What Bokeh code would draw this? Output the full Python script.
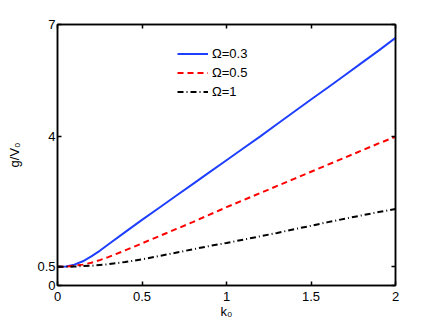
from bokeh.plotting import figure
from bokeh.models import Range1d, LinearAxis, FixedTicker, Legend, LegendItem
from bokeh.embed import file_html
from bokeh.resources import INLINE

k0 = [0.0, 0.05, 0.1, 0.15, 0.2, 0.25, 0.3, 0.4, 0.5, 0.6, 0.7, 0.8, 0.9, 1.0,
      1.1, 1.2, 1.3, 1.4, 1.5, 1.6, 1.7, 1.8, 1.9, 2.0]
g_omega_03 = [0.50, 0.51, 0.56, 0.65, 0.78, 0.93, 1.10, 1.43, 1.76, 2.08, 2.40, 2.72, 3.04, 3.36,
              3.68, 4.00, 4.33, 4.66, 4.99, 5.31, 5.64, 5.97, 6.30, 6.64]
g_omega_05 = [0.50, 0.505, 0.53, 0.56, 0.61, 0.68, 0.76, 0.94, 1.13, 1.32, 1.51, 1.70, 1.90, 2.10,
              2.29, 2.48, 2.67, 2.86, 3.05, 3.24, 3.43, 3.62, 3.81, 3.99]
g_omega_1 = [0.50, 0.50, 0.51, 0.52, 0.53, 0.55, 0.57, 0.63, 0.70, 0.79, 0.88, 0.97, 1.06, 1.14,
             1.23, 1.32, 1.41, 1.51, 1.60, 1.70, 1.79, 1.88, 1.97, 2.05]
series_labels = ["Ω=0.3", "Ω=0.5", "Ω=1"]
x_ticks = [0, 0.5, 1, 1.5, 2]
y_ticks = [0, 0.5, 4, 7]
x_title = "k₀"
y_title = "g/V₀"

FONT = "Liberation Sans"

p = figure(width=436, height=328, output_backend="svg", toolbar_location=None,
           x_range=Range1d(0, 2), y_range=Range1d(0, 7),
           min_border_left=57, min_border_right=41, min_border_top=24, min_border_bottom=43)
p.grid.visible = False
p.outline_line_color = "black"
p.outline_line_width = 1.5

r1 = p.line(k0, g_omega_03, line_color="#1f3fff", line_width=2)
r2 = p.line(k0, g_omega_05, line_color="#ff0000", line_width=2, line_dash="6 4")
r3 = p.line(k0, g_omega_1, line_color="black", line_width=2, line_dash="6 3 1 3")

for ax in p.xaxis:
    ax.ticker = FixedTicker(ticks=x_ticks)
    ax.major_label_standoff = 6
    ax.axis_label = x_title
    ax.axis_label_standoff = 0
for ax in p.yaxis:
    ax.ticker = FixedTicker(ticks=y_ticks)
    ax.major_label_standoff = 2
    ax.axis_label = y_title
    ax.axis_label_standoff = 12

for ax in list(p.xaxis) + list(p.yaxis):
    ax.axis_line_color = "black"
    ax.axis_line_width = 1.5
    ax.major_tick_in = 4
    ax.major_tick_out = 0
    ax.major_tick_line_width = 1.5
    ax.minor_tick_line_color = None
    ax.major_label_text_font = FONT
    ax.major_label_text_font_size = "13px"
    ax.major_label_text_color = "black"
    ax.axis_label_text_font = FONT
    ax.axis_label_text_font_size = "13px"
    ax.axis_label_text_font_style = "normal"
    ax.axis_label_text_color = "black"

# mirrored ticks on top and right
top = LinearAxis(ticker=FixedTicker(ticks=x_ticks))
right = LinearAxis(ticker=FixedTicker(ticks=y_ticks))
for ax in (top, right):
    ax.axis_line_color = "black"
    ax.axis_line_width = 1.5
    ax.major_tick_in = 4
    ax.major_tick_out = 0
    ax.major_tick_line_width = 1.5
    ax.minor_tick_line_color = None
    ax.major_label_text_font_size = "1px"
    ax.major_label_standoff = 0
top.major_label_overrides = {t: "" for t in x_ticks}
right.major_label_overrides = {t: "" for t in y_ticks}
p.add_layout(top, "above")
p.add_layout(right, "right")

legend = Legend(items=[LegendItem(label=series_labels[0], renderers=[r1]),
                       LegendItem(label=series_labels[1], renderers=[r2]),
                       LegendItem(label=series_labels[2], renderers=[r3])],
                location=(120, 184), orientation="vertical")
legend.border_line_color = None
legend.background_fill_alpha = 0
legend.padding = 0
legend.margin = 0
legend.spacing = 0
legend.glyph_width = 31
legend.glyph_height = 19
legend.label_height = 19
legend.label_standoff = 4
legend.label_text_font = FONT
legend.label_text_font_size = "13px"
legend.label_text_color = "black"
p.add_layout(legend, "center")

open("out.html", "w").write(file_html(p, INLINE))
